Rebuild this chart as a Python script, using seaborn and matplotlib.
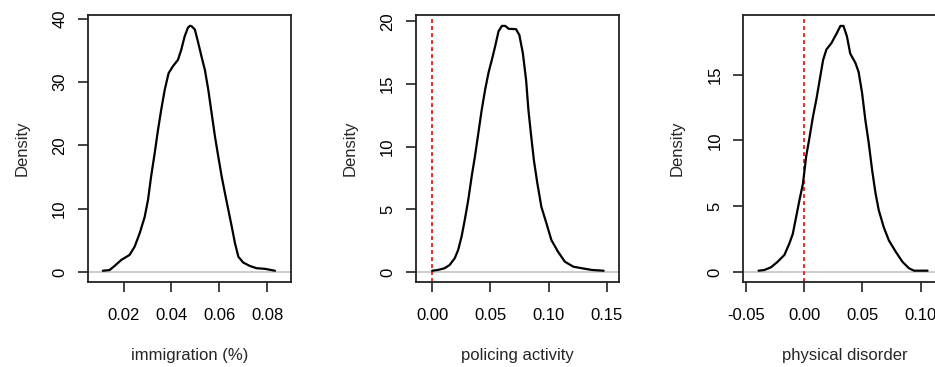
import numpy as np
import pandas as pd
import seaborn as sns
import matplotlib.pyplot as plt

# Density curves
imm_x = [0.0113, 0.0141, 0.0162, 0.0190, 0.0225, 0.0246, 0.0267, 0.0288, 0.0302, 0.0315,
         0.0330, 0.0344, 0.0357, 0.0372, 0.0388, 0.0406, 0.0427, 0.0441, 0.0455, 0.0469,
         0.0478, 0.0485, 0.0498, 0.0512, 0.0526, 0.0540, 0.0554, 0.0568, 0.0582, 0.0596,
         0.0610, 0.0624, 0.0638, 0.0652, 0.0666, 0.0680, 0.0700, 0.0728, 0.0756, 0.0791, 0.0833]
imm_y = [0.2, 0.3, 0.95, 1.9, 2.7, 4.0, 6.1, 8.7, 11.4, 15.1,
         18.8, 22.5, 25.6, 28.8, 31.4, 32.5, 33.5, 35.1, 37.2, 38.6,
         38.9, 38.8, 38.3, 36.2, 34.0, 31.9, 28.8, 25.1, 21.4, 18.2,
         15.1, 12.4, 9.8, 7.2, 4.5, 2.4, 1.5, 0.95, 0.6, 0.5, 0.2]

pol_x = [0.0000, 0.0049, 0.0107, 0.0150, 0.0194, 0.0223, 0.0252, 0.0280, 0.0310, 0.0339,
         0.0367, 0.0397, 0.0425, 0.0454, 0.0484, 0.0512, 0.0541, 0.0570, 0.0599, 0.0628,
         0.0657, 0.0720, 0.0749, 0.0779, 0.0807, 0.0827, 0.0851, 0.0874, 0.0903, 0.0938,
         0.0981, 0.1024, 0.1082, 0.1140, 0.1213, 0.1285, 0.1372, 0.1473]
pol_y = [0.1, 0.16, 0.3, 0.56, 1.1, 1.75, 2.8, 4.15, 5.75, 7.6,
         9.2, 11.1, 12.9, 14.5, 15.9, 16.9, 18.0, 19.2, 19.63, 19.63,
         19.4, 19.37, 18.9, 17.45, 15.3, 12.9, 10.8, 8.9, 7.1, 5.2,
         3.9, 2.55, 1.6, 0.82, 0.42, 0.3, 0.16, 0.1]

dis_x = [-0.0392, -0.0343, -0.0285, -0.0228, -0.0170, -0.0126, -0.0098, -0.0069, -0.0040, -0.0011,
         0.0017, 0.0047, 0.0075, 0.0104, 0.0133, 0.0162, 0.0190, 0.0234, 0.0277, 0.0311,
         0.0337, 0.0367, 0.0395, 0.0439, 0.0467, 0.0497, 0.0525, 0.0554, 0.0583, 0.0612,
         0.0640, 0.0683, 0.0727, 0.0785, 0.0843, 0.0900, 0.0943, 0.1059]
dis_y = [0.1, 0.15, 0.36, 0.78, 1.3, 2.2, 2.9, 4.2, 5.5, 6.7,
         8.8, 10.3, 11.8, 13.1, 14.6, 16.1, 16.9, 17.4, 18.1, 18.7,
         18.7, 17.9, 16.6, 15.9, 15.2, 13.6, 11.55, 9.8, 7.75, 6.0,
         4.7, 3.4, 2.4, 1.55, 0.78, 0.28, 0.1, 0.1]

labels = ['immigration (%)', 'policing activity', 'physical disorder']
xticks = [[0.02, 0.04, 0.06, 0.08], [0.00, 0.05, 0.10, 0.15], [-0.05, 0.00, 0.05, 0.10]]
yticks = [[0, 10, 20, 30, 40], [0, 5, 10, 15, 20], [0, 5, 10, 15]]
xlims = [(0.0051, 0.090), (-0.0139, 0.1605), (-0.0523, 0.122)]
ylims = [(-1.58, 40.6), (-0.8, 20.5), (-0.76, 19.53)]
show_zero = [False, True, True]

sns.set_style('ticks')
plt.rcParams['font.family'] = ['Liberation Sans', 'DejaVu Sans']
plt.rcParams['font.size'] = 12

fig = plt.figure(figsize=(9.35, 3.67), dpi=100)
lefts = [88, 416, 743.3]
curves = [(imm_x, imm_y), (pol_x, pol_y), (dis_x, dis_y)]

for i in range(3):
    ax = fig.add_axes([lefts[i] / 935, 1 - 282 / 367, 203 / 935, 267 / 367])
    df = pd.DataFrame({'x': curves[i][0], 'y': curves[i][1]})
    ax.axhline(0, color='#bebebe', lw=1.1, zorder=1)
    if show_zero[i]:
        ax.axvline(0, color='#ff2020', lw=1.4, ls=(0, (2, 1.6)), zorder=2)
    sns.lineplot(data=df, x='x', y='y', ax=ax, color='black', lw=1.6, sort=False, zorder=3)
    ax.set_xlim(xlims[i])
    ax.set_ylim(ylims[i])
    ax.set_xticks(xticks[i])
    ax.set_xticklabels(['%.2f' % v for v in xticks[i]])
    ax.set_yticks(yticks[i])
    ax.set_yticklabels([str(v) for v in yticks[i]], rotation=90, va='center')
    ax.tick_params(direction='out', length=7, width=1.2, color='#222222', pad=8,
                   labelcolor='black')
    ax.tick_params(axis='x', pad=12)
    ax.set_xlabel(labels[i], labelpad=18)
    ax.set_ylabel('Density', labelpad=16.5)
    for s in ax.spines.values():
        s.set_linewidth(1.3)
        s.set_color('#222222')

fig.savefig('out.png', dpi=100)
